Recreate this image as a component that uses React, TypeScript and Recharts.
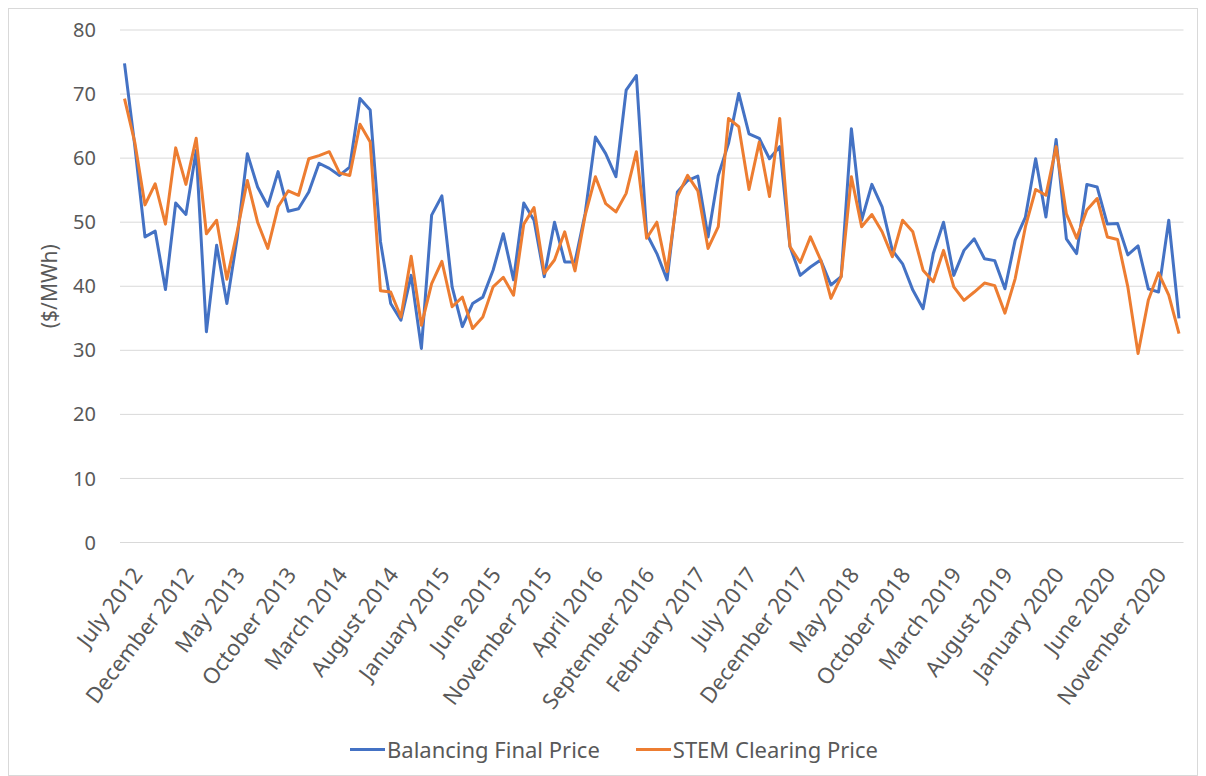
import React from 'react';
import { LineChart, Line, XAxis, YAxis, CartesianGrid, Legend } from 'recharts';

const MONTH_NAMES = [
  'January', 'February', 'March', 'April', 'May', 'June',
  'July', 'August', 'September', 'October', 'November', 'December',
];
const START_YEAR = 2012;
const START_MONTH_INDEX = 6; // July
const MONTH_COUNT = 104; // July 2012 .. February 2021

const categories: string[] = Array.from({ length: MONTH_COUNT }, (_, i) => {
  const m = START_MONTH_INDEX + i;
  return `${MONTH_NAMES[m % 12]} ${START_YEAR + Math.floor(m / 12)}`;
});

const balancingFinalPrice = [
  74.8, 62.0, 47.7, 48.6, 39.5, 53.0, 51.2, 61.2, 32.9, 46.4,
  37.3, 47.5, 60.7, 55.5, 52.5, 57.9, 51.7, 52.1, 54.7, 59.2,
  58.4, 57.3, 58.6, 69.3, 67.5, 47.0, 37.3, 34.7, 41.7, 30.3,
  51.1, 54.1, 39.9, 33.7, 37.3, 38.3, 42.5, 48.2, 41.0, 53.0,
  50.3, 41.5, 50.0, 43.8, 43.8, 51.4, 63.3, 60.7, 57.1, 70.6,
  72.9, 48.2, 45.1, 41.0, 54.7, 56.5, 57.2, 47.7, 57.3, 62.3,
  70.1, 63.8, 63.1, 59.9, 61.8, 46.2, 41.7, 43.0, 44.1, 40.2,
  41.5, 64.6, 50.3, 55.9, 52.4, 45.6, 43.5, 39.4, 36.5, 45.1,
  50.0, 41.7, 45.6, 47.4, 44.3, 44.0, 39.6, 47.2, 50.8, 59.9,
  50.8, 62.9, 47.4, 45.1, 55.9, 55.5, 49.7, 49.8, 44.9, 46.3,
  39.6, 39.1, 50.3, 35.0,
];

const stemClearingPrice = [
  69.3, 62.5, 52.7, 56.0, 49.7, 61.6, 55.9, 63.1, 48.2, 50.3,
  41.1, 48.5, 56.5, 50.0, 45.9, 52.4, 54.9, 54.2, 59.9, 60.4,
  61.0, 57.7, 57.3, 65.3, 62.5, 39.3, 39.1, 35.2, 44.7, 33.9,
  40.4, 43.9, 36.8, 38.3, 33.4, 35.2, 39.9, 41.4, 38.6, 49.7,
  52.3, 42.0, 44.1, 48.5, 42.4, 51.1, 57.1, 52.9, 51.6, 54.5,
  61.0, 47.5, 50.0, 42.3, 54.0, 57.3, 54.9, 45.9, 49.3, 66.2,
  64.9, 55.1, 62.5, 54.0, 66.2, 46.2, 43.7, 47.7, 44.1, 38.1,
  41.5, 57.1, 49.3, 51.2, 48.5, 44.6, 50.3, 48.5, 42.5, 40.7,
  45.6, 39.9, 37.8, 39.1, 40.5, 40.1, 35.8, 41.2, 49.3, 55.1,
  54.2, 61.8, 51.3, 47.5, 51.9, 53.7, 47.7, 47.3, 39.9, 29.5,
  37.8, 42.1, 38.6, 32.6,
];

const yTicks = [0, 10, 20, 30, 40, 50, 60, 70, 80];

const SERIES = [
  { key: 'balancing', name: 'Balancing Final Price', color: '#4472C4' },
  { key: 'stem', name: 'STEM Clearing Price', color: '#ED7D31' },
];

const data = categories.map((month, i) => ({
  month,
  balancing: balancingFinalPrice[i],
  stem: stemClearingPrice[i],
}));

const FONT = '"Noto Sans", "Open Sans", sans-serif';
const TEXT = '#595959';

const XTick = (props: any) => {
  const { x, y, payload } = props;
  const ax = x + 6.5;
  const ay = y + 23;
  return (
    <text
      x={ax}
      y={ay}
      dy="0.72em"
      textAnchor="end"
      transform={`rotate(-53 ${ax} ${ay})`}
      fill={TEXT}
      fontSize={22}
      fontFamily={FONT}
    >
      {payload.value}
    </text>
  );
};

const YTitle = (props: any) => {
  const vb = props.viewBox || {};
  const cx = (vb.x ?? 0) + 41;
  const cy = (vb.y ?? 0) + (vb.height ?? 0) / 2;
  return (
    <text
      x={cx}
      y={cy}
      textAnchor="middle"
      dominantBaseline="central"
      transform={`rotate(-90 ${cx} ${cy})`}
      fill={TEXT}
      fontSize={21}
      fontFamily={FONT}
    >
      ($/MWh)
    </text>
  );
};

const renderLegend = () => (
  <div
    style={{
      height: 40,
      display: 'flex',
      alignItems: 'center',
      paddingLeft: 342,
      fontFamily: FONT,
      fontSize: 22,
      color: TEXT,
      whiteSpace: 'nowrap',
    }}
  >
    {SERIES.map((s, i) => (
      <div
        key={s.key}
        style={{ display: 'flex', alignItems: 'center', marginLeft: i === 0 ? 0 : 36 }}
      >
        <div style={{ width: 35, height: 3, background: s.color, marginRight: 2 }} />
        <span>{s.name}</span>
      </div>
    ))}
  </div>
);

export default function App() {
  return (
    <div
      style={{
        width: 1190,
        height: 768,
        outline: '1px solid #d9d9d9',
        outlineOffset: -1,
        fontFamily: FONT,
        background: '#fff',
      }}
    >
      <LineChart
        width={1190}
        height={768}
        data={data}
        margin={{ top: 22, right: 14.5, bottom: 7, left: 0 }}
      >
        <CartesianGrid vertical={false} stroke="#d9d9d9" strokeWidth={1} />
        <XAxis
          dataKey="month"
          interval={4}
          axisLine={false}
          tickLine={false}
          tickSize={0}
          tickMargin={0}
          height={186.5}
          padding={{ left: 4.5, right: 4.5 }}
          tick={<XTick />}
        />
        <YAxis
          domain={[0, 80]}
          ticks={yTicks}
          width={112}
          axisLine={false}
          tickLine={false}
          tickSize={0}
          tickMargin={24}
          tick={{ fill: TEXT, fontSize: 20, fontFamily: FONT }}
          label={<YTitle />}
        />
        <Legend verticalAlign="bottom" height={40} content={renderLegend} />
        {SERIES.map((s) => (
          <Line
            key={s.key}
            type="linear"
            dataKey={s.key}
            name={s.name}
            stroke={s.color}
            strokeWidth={3}
            strokeLinejoin="round"
            dot={false}
            activeDot={false}
            isAnimationActive={false}
          />
        ))}
      </LineChart>
    </div>
  );
}
